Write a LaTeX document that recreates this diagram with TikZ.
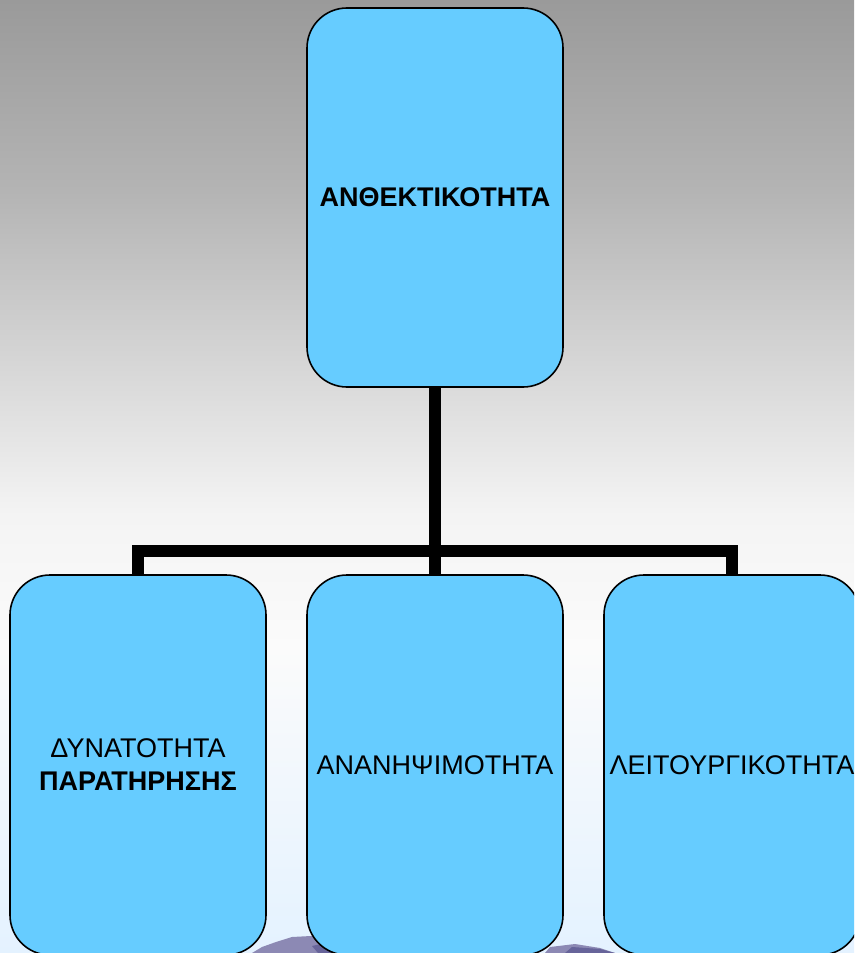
\documentclass[tikz,border=0pt]{standalone}
\usepackage{fontspec}
\setmainfont{Liberation Sans}
\pgfdeclarelayer{backdrop}
\pgfdeclarelayer{links}
\pgfsetlayers{backdrop,links,main}
\definecolor{boxfill}{HTML}{66CCFF}
\definecolor{bgtop}{HTML}{9A9A9A}
\definecolor{bgupper}{HTML}{B4B4B4}
\definecolor{bgmid}{HTML}{F4F4F4}
\definecolor{bglow}{HTML}{FBFBFB}
\definecolor{bgbottom}{HTML}{E4F2FF}
\definecolor{hilllight}{HTML}{8C89B4}
\definecolor{hilldark}{HTML}{67649A}
% page backdrop: grey at the top fading to a pale blue white
\pgfdeclareverticalshading{pagebg}{100bp}{%
  color(0bp)=(bgbottom); color(25bp)=(bgbottom); color(41bp)=(bglow);
  color(48bp)=(bgmid); color(65bp)=(bgupper); color(75bp)=(bgtop); color(100bp)=(bgtop)}
\begin{document}
\begin{tikzpicture}[x=1pt,y=-1pt,
  box/.style={draw=black, line width=1.6pt, fill=boxfill, rounded corners=40pt,
    minimum width=256pt, inner sep=0pt, align=center,
    font=\fontsize{27}{33}\selectfont},
  link/.style={line width=12.5pt, line join=miter}]
\useasboundingbox (0,0) rectangle (854,953);
\clip (0,0) rectangle (854,953);
\begin{pgfonlayer}{backdrop}
  \shade[shading=pagebg] (0,0) rectangle (854,953);
  \fill[hilllight] (252,953) -- (262,947) -- (276,942) -- (292,937) -- (330,935) -- (330,953) -- cycle;
  \fill[hilldark] (318,953) -- (312,946) -- (330,942) -- (340,953) -- cycle;
  \fill[hilllight] (545,953) -- (550,947) -- (575,944) -- (600,948) -- (615,953) -- cycle;
  \fill[hilldark] (565,953) -- (572,947) -- (600,949) -- (615,953) -- cycle;
\end{pgfonlayer}
% nodes
\node[box, minimum height=379pt] (top) at (435,197.5) {\textbf{ΑΝΘΕΚΤΙΚΟΤΗΤΑ}};
\node[box, minimum height=380pt] (b1) at (138,765) {ΔΥΝΑΤΟΤΗΤΑ\\\textbf{ΠΑΡΑΤΗΡΗΣΗΣ}};
\node[box, minimum height=380pt] (b2) at (435,765) {ΑΝΑΝΗΨΙΜΟΤΗΤΑ};
\node[box, minimum height=380pt] (b3) at (732,765) {ΛΕΙΤΟΥΡΓΙΚΟΤΗΤΑ};
\coordinate (j) at (435,551);
% tree connectors
\begin{pgfonlayer}{links}
  \draw[link] (top.south) -- (b2.north);
  \draw[link] (b1.north) -- (b1.north |- j) -- (b3.north |- j) -- (b3.north);
\end{pgfonlayer}
\end{tikzpicture}
\end{document}
